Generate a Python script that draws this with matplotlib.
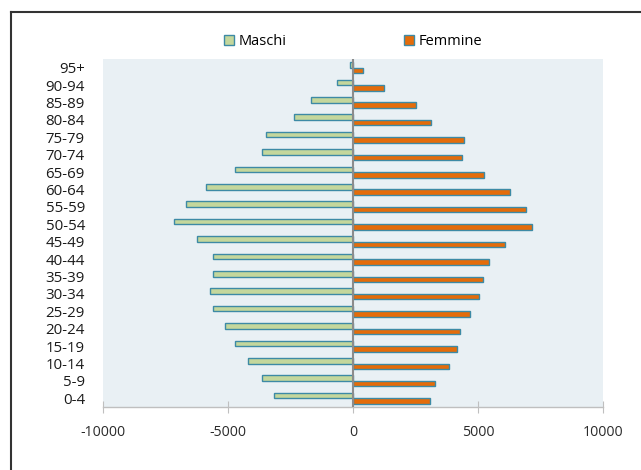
import matplotlib
matplotlib.use("Agg")
import matplotlib.pyplot as plt
from matplotlib.lines import Line2D
import numpy as np

age_groups = ["0-4", "5-9", "10-14", "15-19", "20-24", "25-29", "30-34", "35-39",
              "40-44", "45-49", "50-54", "55-59", "60-64", "65-69", "70-74",
              "75-79", "80-84", "85-89", "90-94", "95+"]
maschi = [-3170, -3650, -4190, -4710, -5120, -5600, -5730, -5600, -5600, -6240,
          -7170, -6670, -5880, -4710, -3650, -3470, -2350, -1680, -640, -135]
femmine = [3090, 3270, 3850, 4160, 4270, 4680, 5030, 5200, 5440, 6070,
           7150, 6900, 6260, 5250, 4370, 4440, 3130, 2530, 1250, 400]
x_ticks = [-10000, -5000, 0, 5000, 10000]

plt.rcParams['font.family'] = ['Open Sans', 'DejaVu Sans']

W, H = 641, 470
fig = plt.figure(figsize=(W / 100, H / 100), dpi=100)
ax = fig.add_axes([103 / W, 63 / H, 500 / W, 348 / H])
ax.set_facecolor("#e9f0f4")

y = np.arange(len(age_groups))
h = 0.32
edge = "#3d8aa5"
ax.barh(y + h / 2, maschi, height=h, color="#c4d79c", edgecolor=edge,
        linewidth=1.0, label="Maschi", zorder=3)
ax.barh(y - h / 2, femmine, height=h, color="#e46c0a", edgecolor=edge,
        linewidth=1.0, label="Femmine", zorder=3)

ax.set_xlim(-10000, 10000)
ax.set_ylim(-0.5, len(age_groups) - 0.5)
ax.set_yticks(y)
ax.set_yticklabels(age_groups)
ax.set_xticks(x_ticks)
ax.set_xticklabels([str(v) for v in x_ticks])

for s in ["top", "right", "left"]:
    ax.spines[s].set_visible(False)
ax.spines["bottom"].set_color("#bfbfbf")
ax.spines["bottom"].set_linewidth(1.0)

ax.axvline(0, color="#8c8c8c", linewidth=1.5, zorder=4)

ax.tick_params(axis="y", length=0, pad=13, labelsize=10.8, labelcolor="#1a1a1a")
ax.tick_params(axis="x", direction="inout", length=8, color="#bfbfbf",
               pad=9, labelsize=10.2, labelcolor="#2a2a2a")

leg = ax.legend(loc="center", bbox_to_anchor=(0.5, 1.049), ncol=2, frameon=False,
                fontsize=10.5, handlelength=0.7, handleheight=0.7,
                handletextpad=0.3, columnspacing=8.1, borderaxespad=0)

# figure frame (top and left visible)
fig.add_artist(Line2D([10.5 / W, 10.5 / W], [0, 1 - 12 / H], color="#333333",
                      linewidth=1.5, transform=fig.transFigure))
fig.add_artist(Line2D([10.5 / W, 1], [1 - 12 / H, 1 - 12 / H], color="#333333",
                      linewidth=1.5, transform=fig.transFigure))

fig.savefig("out.png", dpi=100)
